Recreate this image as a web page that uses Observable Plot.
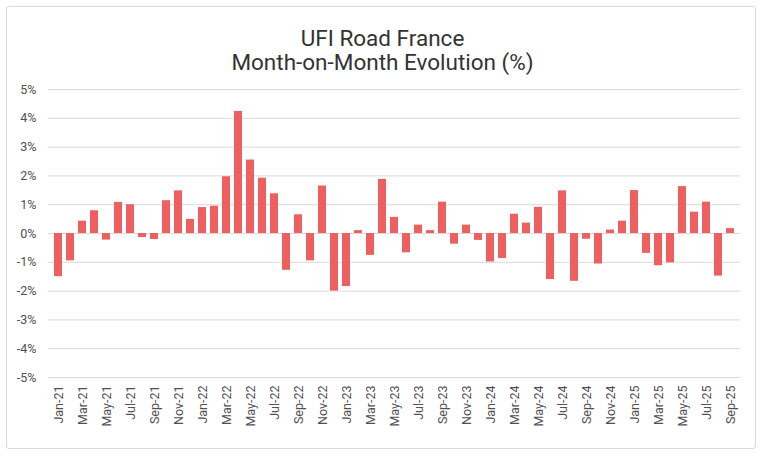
<!DOCTYPE html>
<html>
<head>
<meta charset="utf-8">
<script src="https://cdn.jsdelivr.net/npm/d3@7"></script>
<script src="https://cdn.jsdelivr.net/npm/@observablehq/plot@0.6"></script>
<style>
  html, body { margin: 0; padding: 0; background: #fff; }
  #frame {
    position: absolute; left: 6px; top: 6px; width: 748px; height: 441px;
    border: 1px solid #d9d9d9; border-radius: 3px; box-sizing: content-box;
  }
  #title {
    position: absolute; left: 0; top: 0; width: 765px; height: 80px;
    text-align: center; font-family: Roboto, "Open Sans", sans-serif;
    color: #333333; font-size: 22.5px; line-height: 24px;
  }
  #title .l1 { position: absolute; top: 26px; width: 100%; }
  #title .l2 { position: absolute; top: 50px; width: 100%; }
  #chart { position: absolute; left: 0; top: 80px; }
</style>
</head>
<body>
<div id="frame"></div>
<div id="title"><div class="l1">UFI Road France</div><div class="l2">Month-on-Month Evolution (%)</div></div>
<div id="chart"></div>
<script>
const months = [
  "Jan-21","Feb-21","Mar-21","Apr-21","May-21","Jun-21","Jul-21","Aug-21","Sep-21","Oct-21","Nov-21","Dec-21",
  "Jan-22","Feb-22","Mar-22","Apr-22","May-22","Jun-22","Jul-22","Aug-22","Sep-22","Oct-22","Nov-22","Dec-22",
  "Jan-23","Feb-23","Mar-23","Apr-23","May-23","Jun-23","Jul-23","Aug-23","Sep-23","Oct-23","Nov-23","Dec-23",
  "Jan-24","Feb-24","Mar-24","Apr-24","May-24","Jun-24","Jul-24","Aug-24","Sep-24","Oct-24","Nov-24","Dec-24",
  "Jan-25","Feb-25","Mar-25","Apr-25","May-25","Jun-25","Jul-25","Aug-25","Sep-25"
];
const values = [
  -1.50, -0.95, 0.43, 0.79, -0.23, 1.08, 1.00, -0.14, -0.21, 1.14, 1.48, 0.49,
  0.90, 0.95, 1.97, 4.24, 2.55, 1.92, 1.38, -1.28, 0.65, -0.95, 1.65, -2.00,
  -1.84, 0.10, -0.76, 1.88, 0.56, -0.67, 0.29, 0.10, 1.09, -0.37, 0.29, -0.24,
  -0.99, -0.87, 0.67, 0.36, 0.91, -1.60, 1.48, -1.66, -0.20, -1.06, 0.12, 0.43,
  1.49, -0.69, -1.12, -1.02, 1.63, 0.74, 1.09, -1.48, 0.17
];
const yTicks = [-5, -4, -3, -2, -1, 0, 1, 2, 3, 4, 5];
const xTickLabels = months.filter((m, i) => i % 2 === 0);

const data = months.map((m, i) => ({month: m, value: values[i]}));

const chart = Plot.plot({
  width: 765,
  height: 369,
  marginTop: 9,
  marginBottom: 72,
  marginLeft: 48,
  marginRight: 25,
  style: {fontFamily: "Roboto, 'Open Sans', sans-serif", fontSize: "12.5px", color: "#505050", background: "transparent"},
  x: {domain: months, paddingInner: 0.34, paddingOuter: 0.08, label: null},
  y: {domain: [-5, 5], label: null},
  marks: [
    Plot.ruleY(yTicks, {stroke: "#d9d9d9", strokeWidth: 1}),
    Plot.barY(data, {x: "month", y: "value", fill: "#ee6060"}),
    Plot.axisY({ticks: yTicks, tickSize: 0, tickPadding: 12, tickFormat: d => d + "%", label: null, fontSize: 12.5}),
    Plot.axisX({ticks: xTickLabels, tickSize: 0, tickPadding: 8, tickRotate: -90, label: null, fontSize: 12.5})
  ]
});
document.getElementById("chart").appendChild(chart);
</script>
</body>
</html>
